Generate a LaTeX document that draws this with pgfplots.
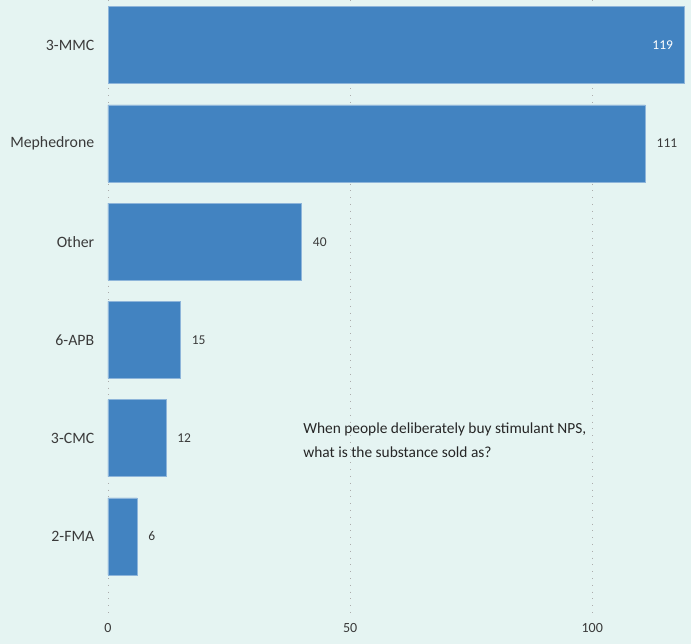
\documentclass[border=0pt]{standalone}
\usepackage{pgfplots}
\pgfplotsset{compat=1.18}
\usepackage{fontspec}
\setmainfont{Carlito}
\definecolor{bgc}{HTML}{E5F4F2}
\definecolor{barc}{HTML}{4283C1}
\definecolor{txt}{HTML}{3A3A3A}
\begin{document}
\begin{tikzpicture}
\useasboundingbox (0,0) rectangle (691pt,644pt);
\fill[bgc] (0,0) rectangle (691pt,644pt);
\begin{axis}[
  at={(108pt,26pt)}, anchor=south west,
  scale only axis, width=583pt, height=618pt,
  xbar, bar width=77pt, bar shift=0pt,
  xmin=0, xmax=120.4,
  ymin=-0.46, ymax=5.83, y dir=reverse,
  ytick={0,1,2,3,4,5},
  yticklabels={3-MMC,Mephedrone,Other,6-APB,3-CMC,2-FMA},
  xtick={0,50,100},
  axis line style={draw=none},
  tick style={draw=none},
  xmajorgrids, ymajorgrids=false,
  major grid style={gray!65, line width=0.8pt, dash pattern=on 0.8pt off 6pt},
  yticklabel style={font=\fontsize{15.8}{17}\selectfont, text=txt, xshift=-6pt},
  xticklabel style={font=\fontsize{14}{16}\selectfont, text=txt, yshift=-2pt},
  /pgf/number format/assume math mode=true,
  clip=false,
]
\addplot[fill=barc, draw=barc!60!white, line width=0.5pt,
  nodes near coords, point meta=x,
  every node near coord/.append style={anchor=west, inner sep=0pt, xshift=11pt,
     font=\fontsize{13.5}{15}\selectfont, text=txt}]
  coordinates {(111,1) (40,2) (15,3) (12,4) (6,5)};
\addplot[fill=barc, draw=barc!60!white, line width=0.5pt,
  nodes near coords, point meta=x,
  every node near coord/.append style={anchor=east, inner sep=0pt, xshift=-11pt,
     font=\fontsize{13.5}{15}\selectfont, text=white}]
  coordinates {(119,0)};
\node[anchor=west, align=left, text=black!85, inner sep=0pt,
  font=\fontsize{15.4}{24}\selectfont] at (axis cs:40.3,4.02)
  {When people deliberately buy stimulant NPS,\\what is the substance sold as?};
\end{axis}
\end{tikzpicture}
\end{document}
